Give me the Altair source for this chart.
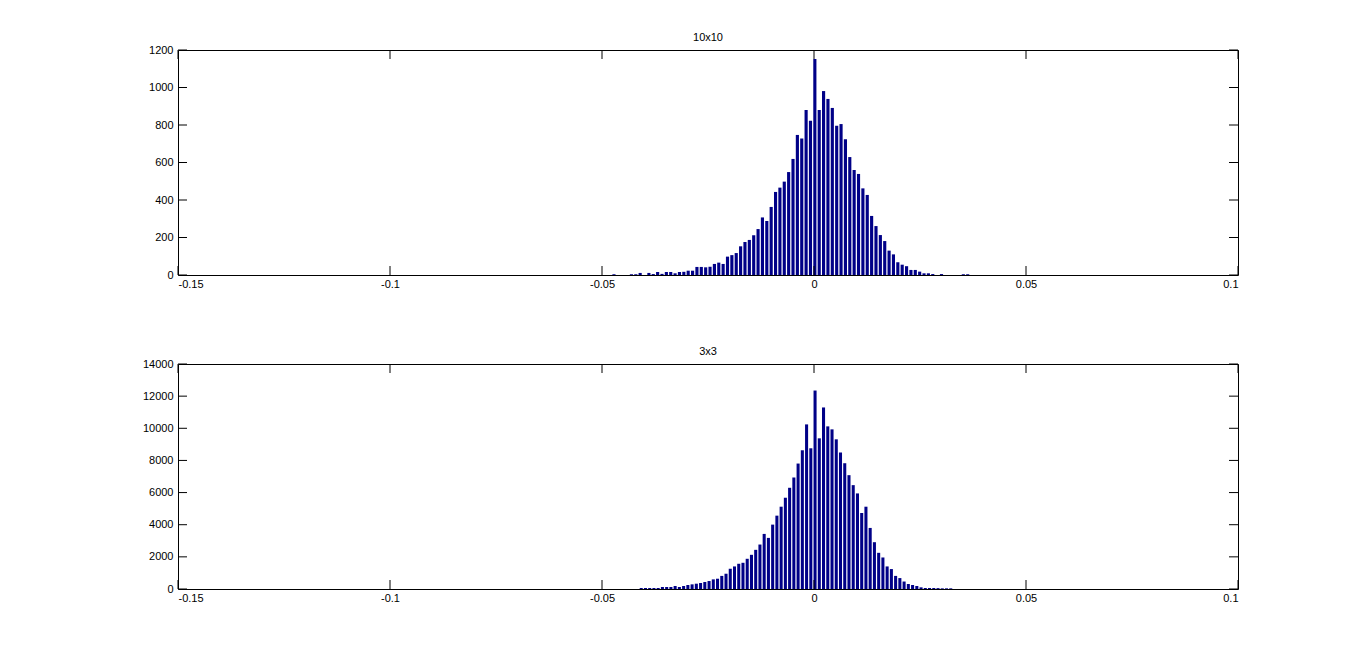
import altair as alt
import pandas as pd

# bin counts (one value per bar, left to right)
TOP_COUNTS = [
    4, 0, 0, 0, 4, 4, 11, 0, 11, 5,
    16, 6, 16, 16, 9, 16, 17, 23, 23, 43,
    43, 41, 44, 59, 66, 59, 98, 106, 117, 153,
    176, 187, 212, 245, 307, 288, 363, 443, 466, 498,
    549, 619, 747, 728, 880, 823,
    1152,
    880, 981, 939, 891, 796, 805, 724, 629, 560, 539,
    462, 427, 315, 261, 213, 181, 130, 110, 68, 55,
    47, 27, 27, 18, 9, 9, 5, 0, 5, 0,
    0, 0, 0, 4, 4,
]
BOTTOM_COUNTS = [
    62, 62, 62, 62, 62, 124, 124, 124, 186, 124,
    186, 248, 289, 330, 372, 434, 496, 599, 640, 815,
    950, 1260, 1404, 1570, 1631, 1880, 2127, 2437, 2767, 3428,
    3180, 4006, 4564, 5121, 5679, 6298, 6938, 7806, 8632, 10242, 8756,
    12349,
    9375, 11296, 10119, 9933, 9313, 8487, 7826, 7083, 6463, 5947,
    4729, 5121, 3800, 2912, 2251, 1961, 1404, 1240, 815, 680,
    465, 310, 248, 186, 103, 62, 62, 62, 55, 41, 41, 41,
]
# histogram bins: centre of the first bar and bin width
TOP_FIRST_CENTER, TOP_BIN_WIDTH = -0.04718, 0.00103
BOTTOM_FIRST_CENTER, BOTTOM_BIN_WIDTH = -0.04075, 0.001

X_TICKS = [-0.15, -0.1, -0.05, 0, 0.05, 0.1]
TOP_Y_TICKS = [0, 200, 400, 600, 800, 1000, 1200]
BOTTOM_Y_TICKS = [0, 2000, 4000, 6000, 8000, 10000, 12000, 14000]

W, H = 1060, 225
TICK_LEN = 9
NAVY = "#000087"
FONT = "Liberation Sans"


def hist_frame(counts, first, width):
    rows = []
    for i, c in enumerate(counts):
        mid = first + i * width
        rows.append({"lo": mid - 0.36 * width, "hi": mid + 0.36 * width, "count": c})
    return pd.DataFrame(rows)


def panel(title, counts, first, width, y_max, y_ticks):
    xs = alt.Scale(domain=[-0.15, 0.1], nice=False, zero=False)
    ys = alt.Scale(domain=[0, y_max], nice=False)
    x_axis = alt.Axis(values=X_TICKS, labelExpr="toString(datum.value)", labelPadding=3)
    y_axis = alt.Axis(values=y_ticks, labelExpr="toString(datum.value)", labelPadding=5)

    bars = alt.Chart(hist_frame(counts, first, width)).mark_rect(color=NAVY).encode(
        x=alt.X("lo:Q", scale=xs, title=None, axis=x_axis),
        x2="hi",
        y=alt.Y("count:Q", scale=ys, title=None, axis=y_axis),
        y2=alt.datum(0),
    )

    # MATLAB style inward ticks on all four sides
    xt = alt.Chart(pd.DataFrame({"v": X_TICKS}))
    yt = alt.Chart(pd.DataFrame({"v": y_ticks}))
    x_enc = alt.X("v:Q", scale=xs, title=None, axis=x_axis)
    y_enc = alt.Y("v:Q", scale=ys, title=None, axis=y_axis)
    ticks = [
        xt.mark_rule(color="black").encode(x=x_enc, y=alt.value(H), y2=alt.value(H - TICK_LEN)),
        xt.mark_rule(color="black").encode(x=x_enc, y=alt.value(0), y2=alt.value(TICK_LEN)),
        yt.mark_rule(color="black").encode(y=y_enc, x=alt.value(0), x2=alt.value(TICK_LEN)),
        yt.mark_rule(color="black").encode(y=y_enc, x=alt.value(W), x2=alt.value(W - TICK_LEN)),
    ]

    return alt.layer(bars, *ticks).properties(
        width=W, height=H,
        title=alt.Title(title, offset=1),
    )


top = panel("10x10", TOP_COUNTS, TOP_FIRST_CENTER, TOP_BIN_WIDTH, 1200, TOP_Y_TICKS)
bottom = panel("3x3", BOTTOM_COUNTS, BOTTOM_FIRST_CENTER, BOTTOM_BIN_WIDTH, 14000, BOTTOM_Y_TICKS)

chart = (
    alt.vconcat(top, bottom, spacing=55)
    .properties(padding={"left": 133, "top": 23, "right": 10, "bottom": 10})
    .configure_view(stroke="black", strokeWidth=1)
    .configure_axis(labelFont=FONT, labelFontSize=11, labelColor="black",
                    ticks=False, grid=False, domain=False)
    .configure_title(font=FONT, fontSize=11, fontWeight="normal", color="black")
)

chart.save("out.html", embed_options={"renderer": "svg", "actions": False})
